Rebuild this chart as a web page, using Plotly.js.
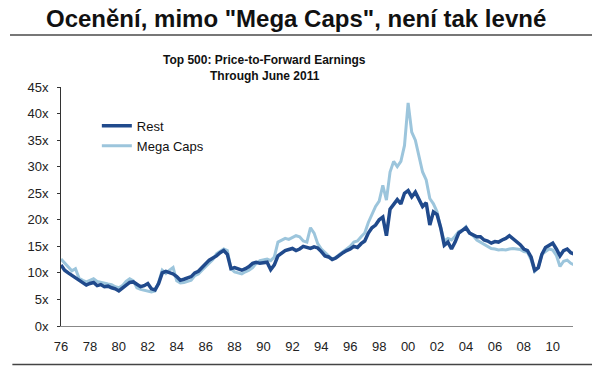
<!DOCTYPE html>
<html>
<head>
<meta charset="utf-8">
<script src="https://cdn.plot.ly/plotly-3.0.1.min.js"></script>
<style>html,body{margin:0;padding:0;background:#fff;}#chart{width:592px;height:367px;}</style>
</head>
<body>
<div id="chart"></div>
<script>
// quarterly observations, 1976 Q1 .. mid-2011
const startYear = 1976;
const restValues = [
  11.5, 10.5, 10.0, 9.5,
  9.0, 8.6, 8.0, 7.7,
  8.0, 8.2, 7.6, 7.8,
  7.4, 7.5, 7.2, 7.0,
  6.6, 7.2, 7.8, 8.2,
  8.3, 7.8, 7.4, 7.6,
  8.0, 7.0, 6.8, 8.0,
  10.0, 10.3, 10.0, 9.8,
  9.3, 8.6, 8.8, 9.1,
  9.3, 10.0, 10.3, 11.0,
  11.8, 12.4, 12.8, 13.2,
  13.8, 14.2, 13.5, 10.8,
  11.0, 10.8, 10.5, 10.8,
  11.2, 11.8, 12.0, 11.8,
  11.9, 12.0, 10.6, 11.5,
  13.2, 13.8, 14.2, 14.4,
  14.6, 14.2, 14.5, 15.0,
  14.8, 14.6, 14.9, 14.7,
  14.0, 13.2, 13.0, 12.5,
  12.8, 13.4, 13.8, 14.2,
  14.5, 15.0, 14.8, 15.5,
  16.0, 17.5, 18.5, 19.0,
  20.0, 20.5, 17.0, 22.0,
  23.0, 23.8, 23.0, 25.0,
  25.5, 24.3, 25.2, 24.0,
  22.5, 23.2, 19.0, 21.5,
  21.0, 18.5, 15.2, 15.8,
  14.5, 15.8, 17.5, 18.0,
  18.5, 17.5, 17.2, 16.8,
  16.8, 16.2, 16.0, 15.6,
  15.9, 15.8, 16.2, 16.5,
  17.0, 16.5, 16.0, 15.3,
  14.5, 14.2, 13.0, 10.5,
  11.0, 13.5, 14.8, 15.3,
  15.6, 14.5, 13.2, 14.2,
  14.5, 13.8, 13.5
];
const megaCapsValues = [
  12.6, 11.8, 11.2, 10.4,
  10.8, 9.0, 8.6, 8.3,
  8.6, 8.9, 8.4, 8.2,
  8.0, 7.9, 7.8, 7.4,
  7.2, 7.6, 8.4, 8.9,
  8.5, 7.2, 6.9, 6.7,
  6.5, 6.4, 6.6, 8.2,
  10.5, 9.9, 10.5, 11.0,
  8.5, 8.1, 8.2, 8.4,
  8.6, 9.5, 9.8, 10.5,
  11.2, 11.8, 12.5, 13.6,
  14.0, 14.5, 14.2, 10.8,
  10.2, 10.0, 9.8, 10.2,
  10.5, 11.0, 11.8, 12.3,
  12.5, 12.6, 12.3, 13.0,
  15.8, 16.2, 16.5, 16.3,
  16.7, 17.0, 16.8, 16.0,
  15.8, 18.5, 17.5, 15.5,
  14.5, 13.8, 13.2, 12.6,
  12.9, 13.5, 14.0, 14.5,
  15.0, 15.8, 16.0, 16.8,
  17.5, 19.5, 21.0, 22.5,
  23.5, 26.5, 23.7, 29.0,
  31.0, 30.0, 31.0, 34.0,
  42.0, 36.5, 35.0, 32.0,
  29.0, 27.5, 24.0, 23.0,
  21.5, 18.5, 16.0, 16.5,
  16.2, 16.9, 17.8, 18.0,
  18.7, 17.5, 17.0, 16.2,
  15.8, 15.3, 15.0, 14.6,
  14.5, 14.3, 14.4, 14.3,
  14.5, 14.6, 14.5, 14.4,
  14.0, 13.9, 12.5, 10.3,
  11.0, 13.5, 14.0, 14.5,
  14.3, 13.3, 11.2, 12.2,
  12.4, 11.8, 11.5
];
const seriesNames = ["Rest", "Mega Caps"];
const tickYears = [1976,1978,1980,1982,1984,1986,1988,1990,1992,1994,1996,1998,2000,2002,2004,2006,2008,2010];
const tickLabels = ["76","78","80","82","84","86","88","90","92","94","96","98","00","02","04","06","08","10"];
const yTicks = [0,5,10,15,20,25,30,35,40,45];
const yTickLabels = ["0x","5x","10x","15x","20x","25x","30x","35x","40x","45x"];
const mainTitle = "Ocenění, mimo \"Mega Caps\", není tak levné";
const subTitle1 = "Top 500: Price-to-Forward Earnings";
const subTitle2 = "Through June 2011";

const xq = restValues.map((_, i) => startYear + i * 0.25);

const traces = [
  {x: xq, y: megaCapsValues, name: seriesNames[1], type: "scatter", mode: "lines",
   line: {color: "#9cc5dc", width: 3}, legendrank: 2},
  {x: xq, y: restValues, name: seriesNames[0], type: "scatter", mode: "lines",
   line: {color: "#204a8c", width: 3.5}, legendrank: 1}
];

const font = "Liberation Sans, Arial, sans-serif";
const layout = {
  width: 592, height: 367,
  margin: {l: 61, r: 19, t: 87, b: 41},
  paper_bgcolor: "#fff", plot_bgcolor: "#fff",
  font: {family: font, size: 13, color: "#222"},
  showlegend: true,
  legend: {x: 0.07, y: 0.9, xanchor: "left", yanchor: "top", bgcolor: "rgba(0,0,0,0)",
           font: {family: font, size: 13, color: "#111"}, tracegroupgap: 2},
  xaxis: {range: [1976, 2011.4], tickmode: "array", tickvals: tickYears, ticktext: tickLabels,
          showgrid: false, zeroline: false, showline: true, linecolor: "#888", linewidth: 1,
          ticks: "", ticklabelstandoff: 8, tickfont: {family: font, size: 13, color: "#222"}, fixedrange: true},
  yaxis: {range: [0, 45], tickmode: "array", tickvals: yTicks, ticktext: yTickLabels,
          showgrid: false, zeroline: false, showline: true, linecolor: "#333", linewidth: 1,
          ticks: "outside", ticklen: 3, tickcolor: "#333", ticklabelstandoff: 6,
          tickfont: {family: font, size: 13, color: "#222"}, fixedrange: true},
  annotations: [
    {text: "<b>" + mainTitle + "</b>", xref: "paper", yref: "paper", x: 0.459, y: 1, yshift: 69,
     xanchor: "center", yanchor: "middle", showarrow: false,
     font: {family: font, size: 24, color: "#111"}},
    {text: "<b>" + subTitle1 + "</b>", xref: "paper", yref: "paper", x: 0.398, y: 1, yshift: 27,
     xanchor: "center", yanchor: "middle", showarrow: false,
     font: {family: font, size: 12, color: "#111"}},
    {text: "<b>" + subTitle2 + "</b>", xref: "paper", yref: "paper", x: 0.398, y: 1, yshift: 11,
     xanchor: "center", yanchor: "middle", showarrow: false,
     font: {family: font, size: 12, color: "#111"}}
  ],
  shapes: [
    {type: "line", xref: "paper", yref: "paper", x0: -0.0996, x1: 1.04, y0: 1.2176, y1: 1.2176,
     line: {color: "#777", width: 2}},
    {type: "line", xref: "paper", yref: "paper", x0: -0.095, x1: 1.04, y0: -0.161, y1: -0.161,
     line: {color: "#444", width: 1.5}}
  ]
};

Plotly.newPlot("chart", traces, layout, {displayModeBar: false, staticPlot: true});
</script>
</body>
</html>
